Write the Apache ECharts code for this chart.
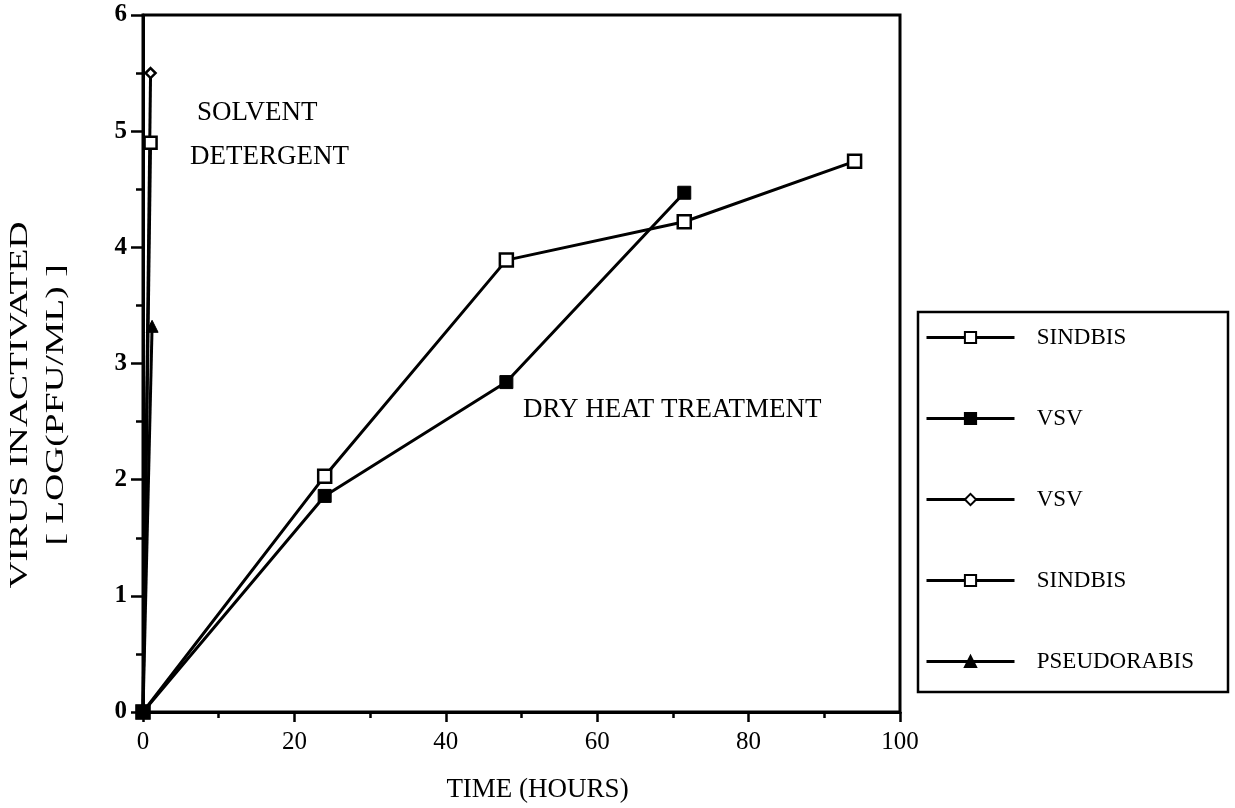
<!DOCTYPE html>
<html>
<head>
<meta charset="utf-8">
<script src="https://cdn.jsdelivr.net/npm/echarts@6/dist/echarts.min.js"></script>
<style>
html,body{margin:0;padding:0;background:#fff;}
#c{width:1235px;height:808px;}
</style>
</head>
<body>
<div id="c"></div>
<script>
// ---- data ----
const dryHeatHours = [0, 24, 48, 71.5, 94];
const dryHeatSindbis = [0, 2.03, 3.89, 4.22, 4.74];
const dryHeatVsvHours = [0, 24, 48, 71.5];
const dryHeatVsv = [0, 1.86, 2.84, 4.47];
const solventHours = [0, 1];
const solventVsv = [0, 5.5];
const solventSindbis = [0, 4.9];
const solventPseudoHours = [0, 1.2];
const solventPseudo = [0, 3.32];
const legendLabels = ['SINDBIS', 'VSV', 'VSV', 'SINDBIS', 'PSEUDORABIS'];
const seriesKeys = ['s1', 's2', 's3', 's4', 's5'];
const xTicks = [0, 20, 40, 60, 80, 100];
const yTicks = [0, 1, 2, 3, 4, 5, 6];

const FONT = 'Liberation Serif';
function pairs(xs, ys) { return xs.map((x, i) => [x, ys[i]]); }

const chart = echarts.init(document.getElementById('c'), null, {renderer: 'canvas'});

const openSquare = {color: '#fff', borderColor: '#000', borderWidth: 2.5};
const filled = {color: '#000', borderColor: '#000', borderWidth: 1};

function mk(key, data, symbol, size, itemStyle, z) {
  return {
    name: key, type: 'line', data: data,
    symbol: symbol, symbolSize: size, showAllSymbol: true,
    lineStyle: {color: '#000', width: 3},
    itemStyle: itemStyle,
    emphasis: {disabled: true},
    z: z
  };
}

const labelMap = {};
seriesKeys.forEach((k, i) => labelMap[k] = legendLabels[i]);

chart.setOption({
  animation: false,
  backgroundColor: '#fff',
  grid: {left: 143, right: 335, top: 15, bottom: 95, show: true, borderColor: '#000', borderWidth: 3, backgroundColor: 'transparent'},
  xAxis: {
    type: 'value', min: xTicks[0], max: xTicks[xTicks.length - 1], interval: 20,
    axisLine: {show: true, lineStyle: {color: '#000', width: 3}},
    axisTick: {show: true, length: 10, inside: false, lineStyle: {color: '#000', width: 2.5}},
    minorTick: {show: true, splitNumber: 2, length: 6, lineStyle: {color: '#000', width: 2.5}},
    splitLine: {show: false},
    axisLabel: {color: '#000', fontFamily: FONT, fontSize: 25, margin: 18},
    name: 'TIME (HOURS)', nameLocation: 'middle', nameGap: 64,
    nameTextStyle: {color: '#000', fontFamily: FONT, fontSize: 27, padding: [0, 0, 0, 32]}
  },
  yAxis: {
    type: 'value', min: yTicks[0], max: yTicks[yTicks.length - 1], interval: 1,
    axisLine: {show: true, lineStyle: {color: '#000', width: 3}},
    axisTick: {show: true, length: 12, lineStyle: {color: '#000', width: 2.5}},
    minorTick: {show: true, splitNumber: 2, length: 7, lineStyle: {color: '#000', width: 2.5}},
    splitLine: {show: false},
    axisLabel: {color: '#000', fontFamily: FONT, fontSize: 25, margin: 16, fontWeight: 'bold'}
  },
  legend: {
    orient: 'vertical', left: 920, top: 321,
    itemWidth: 88, itemHeight: 14, itemGap: 58,
    data: seriesKeys,
    formatter: n => '   ' + labelMap[n],
    textStyle: {color: '#000', fontFamily: FONT, fontSize: 23},
    lineStyle: {width: 3},
    selectedMode: false
  },
  graphic: [
    {type: 'rect', shape: {x: 918, y: 312, width: 310, height: 380}, style: {fill: 'none', stroke: '#000', lineWidth: 2.5}, silent: true},
    {type: 'text', left: 197, top: 99, style: {text: 'SOLVENT', font: '27px "Liberation Serif"', fill: '#000'}},
    {type: 'text', left: 190, top: 143, style: {text: 'DETERGENT', font: '27px "Liberation Serif"', fill: '#000'}},
    {type: 'text', left: 523, top: 396, style: {text: 'DRY HEAT TREATMENT', font: '27px "Liberation Serif"', fill: '#000'}},
    {type: 'text', x: 20, y: 405, rotation: Math.PI / 2, scaleX: 1.5, style: {text: 'VIRUS INACTIVATED', font: '25px "Liberation Serif"', fill: '#000', align: 'center', verticalAlign: 'middle'}},
    {type: 'text', x: 56, y: 405, rotation: Math.PI / 2, scaleX: 1.5, style: {text: '[ LOG(PFU/ML) ]', font: '25px "Liberation Serif"', fill: '#000', align: 'center', verticalAlign: 'middle'}}
  ],
  series: [
    mk('s1', pairs(dryHeatHours, dryHeatSindbis), 'rect', 13, openSquare, 3),
    mk('s2', pairs(dryHeatVsvHours, dryHeatVsv), 'rect', 13, filled, 5),
    mk('s3', pairs(solventHours, solventVsv), 'diamond', 10, openSquare, 3),
    mk('s4', pairs(solventHours, solventSindbis), 'rect', 12, openSquare, 3),
    mk('s5', pairs(solventPseudoHours, solventPseudo), 'triangle', 12, filled, 4)
  ]
});
</script>
</body>
</html>
